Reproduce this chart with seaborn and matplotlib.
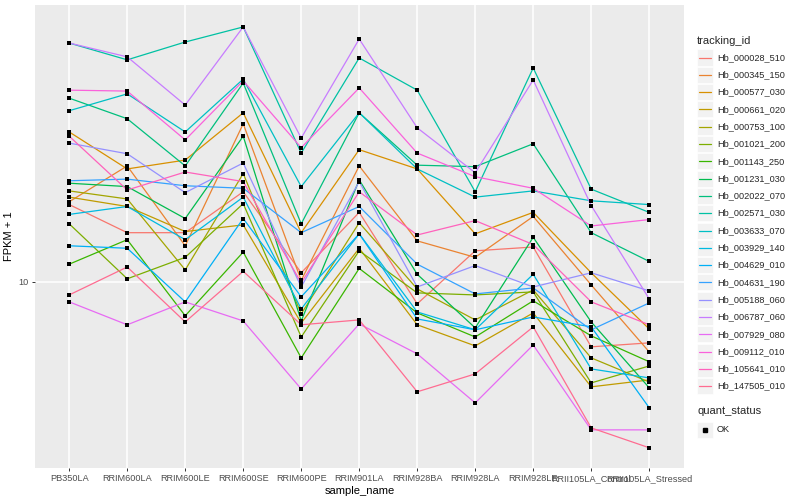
import pandas as pd
import matplotlib
matplotlib.use("Agg")
import matplotlib.pyplot as plt
import seaborn as sns
from matplotlib.patches import Rectangle
from matplotlib.lines import Line2D
from matplotlib.ticker import NullLocator, FixedLocator

# Dados (FPKM + 1)
samples = ["PB350LA", "RRIM600LA", "RRIM600LE", "RRIM600SE", "RRIM600PE",
           "RRIM901LA", "RRIM928BA", "RRIM928LA", "RRIM928LE",
           "RRII105LA_Control", "RRII105LA_Stressed"]

hb_000028_510 = [16.4, 13.7, 13.7, 17.8, 10.6, 15.6, 8.69, 12.2, 12.5, 6.60, 6.77]
hb_000345_150 = [16.7, 21.0, 12.6, 27.5, 10.1, 21.0, 13.0, 11.7, 15.2, 9.81, 6.39]
hb_000577_030 = [26.1, 20.6, 21.8, 29.5, 13.7, 23.3, 20.6, 13.6, 15.6, 10.6, 7.40]
hb_000661_020 = [17.2, 16.2, 13.8, 14.4, 7.69, 12.4, 7.60, 6.64, 8.20, 5.11, 5.34]
hb_000753_100 = [17.9, 17.0, 10.8, 20.0, 8.15, 14.6, 9.56, 7.84, 9.50, 6.15, 5.27]
hb_001021_200 = [14.5, 10.2, 11.7, 16.5, 7.03, 12.2, 9.32, 9.20, 9.38, 5.24, 5.84]
hb_001143_250 = [11.2, 13.1, 8.05, 12.1, 6.15, 10.9, 8.20, 7.03, 8.86, 7.08, 6.00]
hb_001231_030 = [18.8, 18.4, 15.0, 25.4, 7.79, 19.2, 10.5, 7.45, 13.3, 7.74, 5.08]
hb_002022_070 = [32.4, 28.4, 21.0, 35.7, 14.5, 29.5, 21.1, 20.9, 24.2, 13.7, 11.4]
hb_002571_030 = [46.1, 41.4, 46.4, 51.1, 22.8, 41.9, 34.1, 17.8, 39.3, 18.1, 15.6]
hb_003633_070 = [29.9, 33.3, 26.1, 36.6, 18.4, 29.5, 20.6, 17.2, 17.9, 16.8, 16.4]
hb_003929_140 = [15.4, 16.2, 13.1, 17.2, 8.41, 13.6, 8.25, 7.36, 10.5, 5.73, 5.41]
hb_004629_010 = [12.6, 12.4, 8.80, 15.0, 9.09, 13.6, 7.89, 7.36, 7.99, 7.50, 4.47]
hb_004631_190 = [19.1, 19.3, 18.5, 18.2, 13.7, 16.2, 11.2, 9.26, 9.62, 7.36, 8.74]
hb_005188_060 = [24.3, 22.7, 17.7, 21.4, 9.68, 19.0, 9.68, 11.1, 9.68, 10.6, 9.44]
hb_006787_060 = [46.1, 42.2, 31.0, 51.1, 25.1, 47.3, 26.8, 20.1, 36.4, 16.3, 8.97]
hb_007929_080 = [8.80, 7.60, 8.80, 7.79, 5.04, 7.64, 6.31, 4.61, 6.68, 3.88, 3.88]
hb_009112_010 = [34.1, 33.9, 24.8, 36.2, 23.6, 34.6, 22.8, 19.6, 18.2, 14.3, 14.9]
hb_105641_010 = [25.4, 18.0, 20.2, 19.0, 9.94, 17.8, 13.5, 14.8, 12.7, 8.80, 7.60]
hb_147505_010 = [9.20, 11.0, 7.74, 10.7, 7.60, 7.84, 4.95, 5.55, 7.50, 3.93, 3.46]

series = {
    "Hb_000028_510": hb_000028_510, "Hb_000345_150": hb_000345_150,
    "Hb_000577_030": hb_000577_030, "Hb_000661_020": hb_000661_020,
    "Hb_000753_100": hb_000753_100, "Hb_001021_200": hb_001021_200,
    "Hb_001143_250": hb_001143_250, "Hb_001231_030": hb_001231_030,
    "Hb_002022_070": hb_002022_070, "Hb_002571_030": hb_002571_030,
    "Hb_003633_070": hb_003633_070, "Hb_003929_140": hb_003929_140,
    "Hb_004629_010": hb_004629_010, "Hb_004631_190": hb_004631_190,
    "Hb_005188_060": hb_005188_060, "Hb_006787_060": hb_006787_060,
    "Hb_007929_080": hb_007929_080, "Hb_009112_010": hb_009112_010,
    "Hb_105641_010": hb_105641_010, "Hb_147505_010": hb_147505_010,
}
tracking_ids = list(series.keys())

# paleta hue do ggplot (20 cores)
cores = ["#F8766D", "#EA8331", "#D89000", "#C09B00", "#A3A500", "#7CAE00",
         "#39B600", "#00BB4E", "#00BF7D", "#00C1A3", "#00BFC4", "#00BAE0",
         "#00B0F6", "#35A2FF", "#9590FF", "#C77CFF", "#E76BF3", "#FA62DB",
         "#FF62BC", "#FF6C91"]
paleta = dict(zip(tracking_ids, cores))

rows = []
for tid, vals in series.items():
    for s, v in zip(samples, vals):
        rows.append({"tracking_id": tid, "sample_name": s, "fpkm": v, "quant_status": "OK"})
df = pd.DataFrame(rows)

sns.set_theme(style="darkgrid")
plt.rcParams["font.family"] = ["Liberation Sans", "DejaVu Sans"]

W, H = 800, 500
fig = plt.figure(figsize=(8, 5), dpi=100)
fig.patch.set_facecolor("white")


def fx(x):
    return x / W


def fy(y):
    return 1 - y / H


ax = fig.add_axes([fx(35), fy(468), (684 - 35) / W, (468 - 5) / H])
ax.set_facecolor("#EBEBEB")

sns.lineplot(data=df, x="sample_name", y="fpkm", hue="tracking_id",
             hue_order=tracking_ids, palette=paleta, estimator=None,
             sort=False, legend=False, linewidth=0.9, ax=ax)
sns.scatterplot(data=df, x="sample_name", y="fpkm", color="black", marker="s",
                s=9, linewidth=0, legend=False, ax=ax, zorder=5)

ax.set_yscale("log")
ax.set_ylim(3.04, 58.8)
ax.set_xlim(-0.59, 10.6)
ax.yaxis.set_major_locator(FixedLocator([10]))
ax.yaxis.set_minor_locator(NullLocator())
ax.set_yticklabels(["10"])
ax.set_xticks(range(len(samples)))
ax.set_xticklabels(samples)

ax.grid(True, color="white", linewidth=1.1)
ax.set_axisbelow(True)
for sp in ax.spines.values():
    sp.set_visible(False)
ax.tick_params(axis="both", length=2.5, width=0.7, color="#333333",
               labelsize=6.6, labelcolor="#4D4D4D", pad=2, direction="out")
ax.tick_params(axis="x", bottom=True)
ax.tick_params(axis="y", left=True)
ax.set_xlabel("sample_name", fontsize=8, color="black", labelpad=2)
ax.set_ylabel("FPKM + 1", fontsize=8, color="black", labelpad=3)

# Legenda manual (estilo ggplot)
fig.text(fx(697), fy(41), "tracking_id", fontsize=8, va="center", ha="left")
for i, tid in enumerate(tracking_ids):
    yc = 57.5 + i * 17.3
    fig.patches.append(Rectangle((fx(697), fy(yc + 8)), 16 / W, 16 / H,
                                 transform=fig.transFigure, facecolor="#F2F2F2",
                                 edgecolor="white", linewidth=0.5))
    fig.lines.append(Line2D([fx(699), fx(711)], [fy(yc), fy(yc)],
                            transform=fig.transFigure, color=paleta[tid], linewidth=0.9))
    fig.text(fx(717), fy(yc), tid, fontsize=6.6, va="center", ha="left")

fig.text(fx(697), fy(411), "quant_status", fontsize=8, va="center", ha="left")
yc = 430
fig.patches.append(Rectangle((fx(697), fy(yc + 8)), 16 / W, 16 / H,
                             transform=fig.transFigure, facecolor="#F2F2F2",
                             edgecolor="white", linewidth=0.5))
fig.lines.append(Line2D([fx(705)], [fy(yc)], transform=fig.transFigure,
                        color="black", marker="s", markersize=2.8, linestyle="none"))
fig.text(fx(717), fy(yc), "OK", fontsize=6.6, va="center", ha="left")

fig.savefig("out.png", dpi=100)
